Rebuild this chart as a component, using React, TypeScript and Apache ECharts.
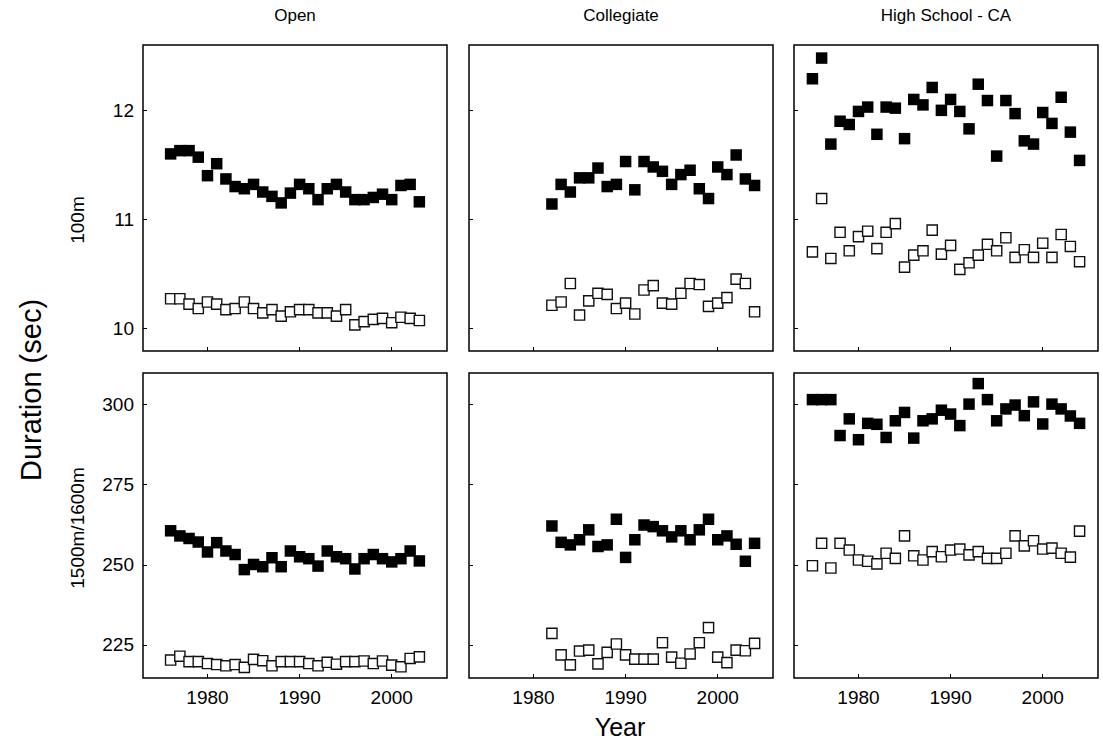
import React, { useEffect, useRef } from "react";
import * as echarts from "echarts";

// ---------- data ----------
const columnTitles = ["Open", "Collegiate", "High School - CA"];
const rowTitles = ["100m", "1500m/1600m"];
const xTicks = [1980, 1990, 2000];
const yTicks100 = [10, 11, 12];
const yTicks1500 = [225, 250, 275, 300];

const openYears = [1976, 1977, 1978, 1979, 1980, 1981, 1982, 1983, 1984, 1985, 1986, 1987, 1988, 1989, 1990, 1991, 1992, 1993, 1994, 1995, 1996, 1997, 1998, 1999, 2000, 2001, 2002, 2003];
const collegiateYears = [1982, 1983, 1984, 1985, 1986, 1987, 1988, 1989, 1990, 1991, 1992, 1993, 1994, 1995, 1996, 1997, 1998, 1999, 2000, 2001, 2002, 2003, 2004];
const highSchoolYears = [1975, 1976, 1977, 1978, 1979, 1980, 1981, 1982, 1983, 1984, 1985, 1986, 1987, 1988, 1989, 1990, 1991, 1992, 1993, 1994, 1995, 1996, 1997, 1998, 1999, 2000, 2001, 2002, 2003, 2004];

// 100m (filled = women, open = men)
const open100Filled = [11.60, 11.63, 11.63, 11.57, 11.40, 11.51, 11.37, 11.30, 11.28, 11.32, 11.25, 11.21, 11.15, 11.24, 11.32, 11.28, 11.18, 11.28, 11.32, 11.25, 11.18, 11.18, 11.20, 11.23, 11.18, 11.31, 11.32, 11.16];
const open100Open = [10.27, 10.27, 10.22, 10.18, 10.24, 10.22, 10.17, 10.18, 10.24, 10.18, 10.14, 10.17, 10.11, 10.15, 10.17, 10.17, 10.14, 10.14, 10.11, 10.17, 10.03, 10.06, 10.08, 10.09, 10.05, 10.10, 10.09, 10.07];
const collegiate100Filled = [11.14, 11.32, 11.25, 11.38, 11.38, 11.47, 11.30, 11.32, 11.53, 11.27, 11.53, 11.48, 11.44, 11.32, 11.41, 11.45, 11.28, 11.19, 11.48, 11.41, 11.59, 11.37, 11.31];
const collegiate100Open = [10.21, 10.24, 10.41, 10.12, 10.25, 10.32, 10.31, 10.18, 10.23, 10.13, 10.35, 10.39, 10.23, 10.22, 10.32, 10.41, 10.40, 10.20, 10.23, 10.28, 10.45, 10.41, 10.15];
const highSchool100Filled = [12.29, 12.48, 11.69, 11.90, 11.87, 11.99, 12.03, 11.78, 12.03, 12.02, 11.74, 12.10, 12.05, 12.21, 12.00, 12.10, 11.99, 11.83, 12.24, 12.09, 11.58, 12.09, 11.97, 11.72, 11.69, 11.98, 11.88, 12.12, 11.80, 11.54];
const highSchool100Open = [10.70, 11.19, 10.64, 10.88, 10.71, 10.84, 10.89, 10.73, 10.88, 10.96, 10.56, 10.67, 10.71, 10.90, 10.68, 10.76, 10.54, 10.60, 10.67, 10.77, 10.71, 10.83, 10.65, 10.72, 10.65, 10.78, 10.65, 10.86, 10.75, 10.61];

// 1500m/1600m
const open1500Filled = [260.6, 259.0, 258.2, 257.1, 254.0, 256.9, 254.3, 253.2, 248.5, 250.1, 249.4, 252.2, 249.4, 254.3, 252.5, 251.9, 249.6, 254.3, 252.5, 251.9, 248.7, 251.9, 253.2, 251.9, 250.9, 251.9, 254.3, 251.2];
const open1500Open = [220.3, 221.5, 219.8, 219.8, 219.2, 218.9, 218.5, 218.9, 218.0, 220.5, 220.1, 218.5, 219.8, 219.8, 219.8, 219.2, 218.5, 219.6, 219.0, 219.8, 219.8, 220.0, 219.2, 220.0, 218.7, 218.2, 220.8, 221.3];
const collegiate1500Filled = [262.1, 257.0, 256.2, 257.8, 260.9, 255.7, 256.2, 264.2, 252.3, 257.8, 262.4, 261.9, 260.6, 258.7, 260.6, 257.8, 260.9, 264.2, 257.8, 259.0, 256.4, 251.1, 256.7];
const collegiate1500Open = [228.6, 221.9, 218.8, 223.1, 223.4, 219.1, 222.7, 225.3, 221.9, 220.6, 220.6, 220.6, 225.7, 221.2, 219.3, 222.2, 225.7, 230.4, 221.2, 219.5, 223.4, 223.2, 225.5];
const highSchool1500Filled = [301.5, 301.5, 301.5, 290.3, 295.5, 289.0, 294.1, 293.8, 289.7, 294.9, 297.5, 289.5, 294.9, 295.5, 298.2, 297.0, 293.4, 300.1, 306.5, 301.5, 294.9, 298.6, 299.8, 296.5, 300.8, 293.9, 300.1, 298.6, 296.4, 294.1];
const highSchool1500Open = [249.7, 256.7, 249.0, 256.7, 254.6, 251.5, 251.1, 250.3, 253.6, 252.0, 259.0, 252.8, 251.5, 254.1, 252.5, 254.6, 254.9, 253.1, 254.1, 252.0, 252.0, 253.6, 259.0, 255.9, 257.5, 254.9, 255.2, 253.6, 252.4, 260.5];

// ---------- layout ----------
const FONT = "'Liberation Sans', Arial, Helvetica, sans-serif";
const colLeft = [143, 469, 794];
const panelWidth = 304;
const rowTop = [45, 373];
const rowHeight = [306, 305];
const xRange = [1973, 2006];
const yRanges = [
  [9.79, 12.6],
  [214.7, 309.8],
];

const panels = [
  { row: 0, col: 0, years: openYears, filled: open100Filled, hollow: open100Open },
  { row: 0, col: 1, years: collegiateYears, filled: collegiate100Filled, hollow: collegiate100Open },
  { row: 0, col: 2, years: highSchoolYears, filled: highSchool100Filled, hollow: highSchool100Open },
  { row: 1, col: 0, years: openYears, filled: open1500Filled, hollow: open1500Open },
  { row: 1, col: 1, years: collegiateYears, filled: collegiate1500Filled, hollow: collegiate1500Open },
  { row: 1, col: 2, years: highSchoolYears, filled: highSchool1500Filled, hollow: highSchool1500Open },
];

function buildOption() {
  const grid = panels.map((p) => ({
    left: colLeft[p.col],
    top: rowTop[p.row],
    width: panelWidth,
    height: rowHeight[p.row],
    show: true,
    borderColor: "#000",
    borderWidth: 1.5,
    backgroundColor: "transparent",
  }));
  const xAxis = panels.map((p, i) => ({
    type: "value",
    gridIndex: i,
    min: xRange[0],
    max: xRange[1],
    splitLine: { show: false },
    axisLine: { show: false },
    axisTick: {
      show: true,
      inside: true,
      length: 4,
      customValues: xTicks,
      lineStyle: { color: "#000", width: 1 },
    },
    axisLabel: {
      show: p.row === 1,
      customValues: xTicks,
      formatter: (v: number) => String(v),
      color: "#000",
      fontSize: 19,
      fontFamily: FONT,
      margin: 10,
    },
  }));
  const yAxis = panels.map((p, i) => ({
    type: "value",
    gridIndex: i,
    min: yRanges[p.row][0],
    max: yRanges[p.row][1],
    splitLine: { show: false },
    axisLine: { show: false },
    axisTick: {
      show: true,
      inside: true,
      length: 4,
      customValues: p.row === 0 ? yTicks100 : yTicks1500,
      lineStyle: { color: "#000", width: 1 },
    },
    axisLabel: {
      show: p.col === 0,
      customValues: p.row === 0 ? yTicks100 : yTicks1500,
      formatter: (v: number) => String(v),
      color: "#000",
      fontSize: 19,
      fontFamily: FONT,
      margin: 9,
    },
  }));
  const series: any[] = [];
  panels.forEach((p, i) => {
    series.push({
      name: "Women",
      type: "scatter",
      xAxisIndex: i,
      yAxisIndex: i,
      symbol: "rect",
      symbolSize: 11.5,
      itemStyle: { color: "#000", opacity: 1 },
      data: p.years.map((y, k) => [y, p.filled[k]]),
    });
    series.push({
      name: "Men",
      type: "scatter",
      xAxisIndex: i,
      yAxisIndex: i,
      symbol: "rect",
      symbolSize: 10.2,
      itemStyle: { color: "#fff", borderColor: "#111", borderWidth: 1.4, opacity: 1 },
      data: p.years.map((y, k) => [y, p.hollow[k]]),
    });
  });

  const graphic: any[] = [];
  columnTitles.forEach((t, c) => {
    graphic.push({
      type: "text",
      x: colLeft[c] + panelWidth / 2,
      y: 15,
      style: { text: t, fill: "#000", font: `17px ${FONT}`, textAlign: "center", textVerticalAlign: "middle" },
    });
  });
  const rowLabelY = [220, 528];
  rowTitles.forEach((t, r) => {
    graphic.push({
      type: "text",
      x: 77,
      y: rowLabelY[r],
      rotation: Math.PI / 2,
      style: { text: t, fill: "#000", font: `19px ${FONT}`, textAlign: "center", textVerticalAlign: "middle" },
    });
  });
  graphic.push({
    type: "text",
    x: 31,
    y: 390,
    rotation: Math.PI / 2,
    style: { text: "Duration (sec)", fill: "#000", font: `29px ${FONT}`, textAlign: "center", textVerticalAlign: "middle" },
  });
  graphic.push({
    type: "text",
    x: 620,
    y: 727,
    style: { text: "Year", fill: "#000", font: `25px ${FONT}`, textAlign: "center", textVerticalAlign: "middle" },
  });

  return {
    animation: false,
    backgroundColor: "#fff",
    grid,
    xAxis,
    yAxis,
    series,
    graphic,
  };
}

export default function App() {
  const ref = useRef<HTMLDivElement>(null);
  useEffect(() => {
    if (!ref.current) return;
    const chart = echarts.init(ref.current, undefined, { renderer: "svg" });
    chart.setOption(buildOption() as any);
    return () => chart.dispose();
  }, []);
  return (
    <div
      ref={ref}
      style={{ position: "absolute", left: 0, top: 0, width: 1103, height: 744, background: "#fff" }}
    />
  );
}
